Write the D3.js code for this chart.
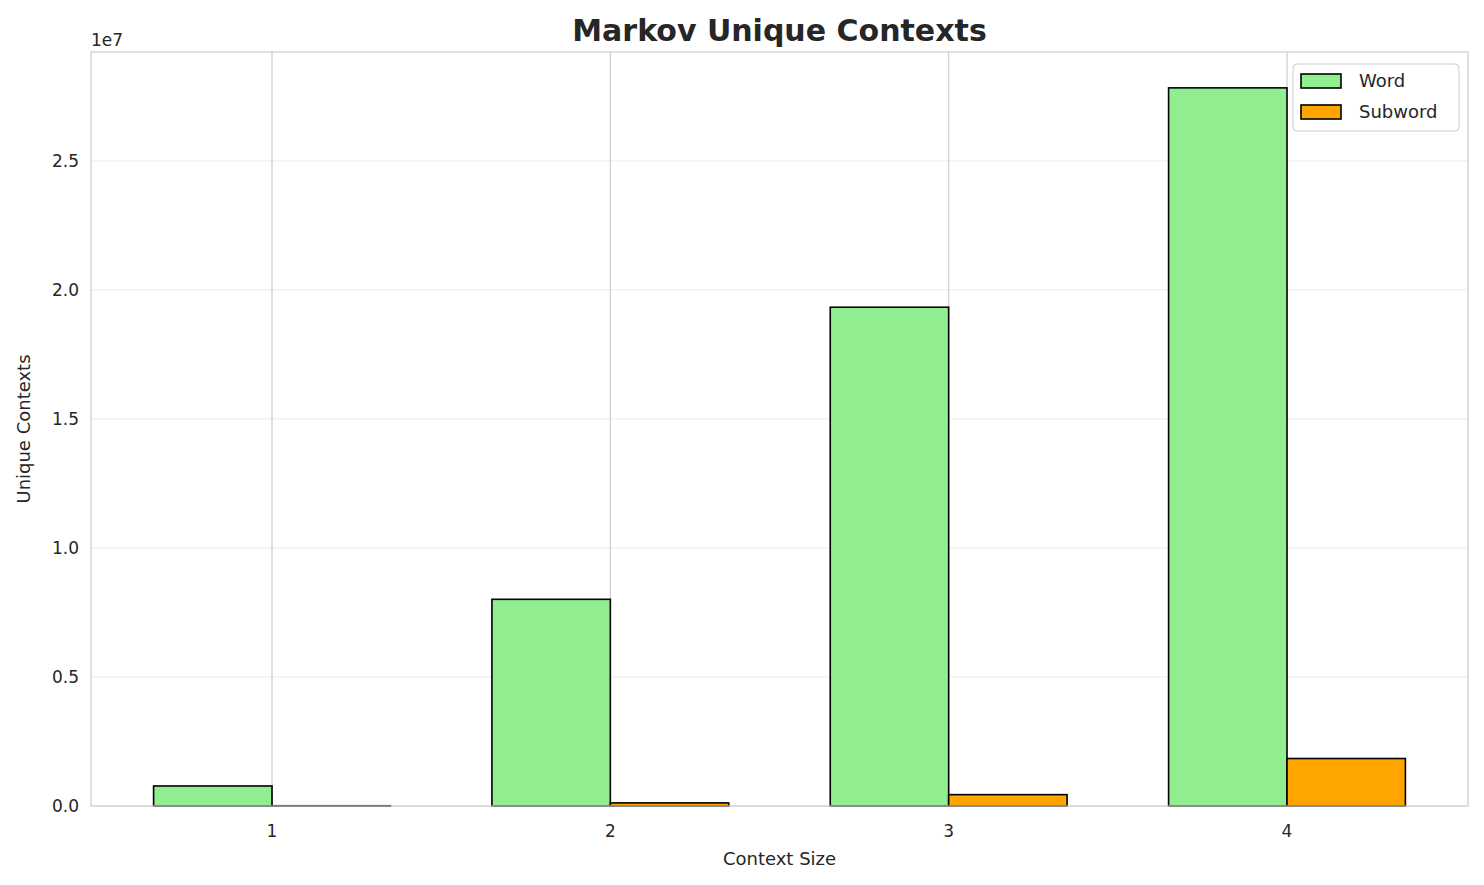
<!DOCTYPE html>
<html><head><meta charset="utf-8">
<script src="https://cdn.jsdelivr.net/npm/d3@7"></script>
<style>body{margin:0;background:#fff;font-family:"DejaVu Sans",sans-serif;}</style>
</head><body><svg id="c" width="1484" height="885"></svg>
<script>
const categories = [1, 2, 3, 4];
const wordValues = [776000, 8010000, 19330000, 27830000];
const subwordValues = [10000, 120000, 440000, 1840000];
const yTicks = [0, 5e6, 1e7, 1.5e7, 2e7, 2.5e7];
const seriesNames = ["Word", "Subword"];
const seriesColors = ["#90ee90", "#ffa500"];

const svg = d3.select("#c");
const L = 91, R = 1468, T = 52, B = 806;
const x = d3.scaleLinear().domain([0.465, 4.535]).range([L, R]);
const y = d3.scaleLinear().domain([0, 2.922e7]).range([B, T]);
const bw = 0.35;

// grids
svg.append("g").selectAll("line").data(yTicks).join("line")
  .attr("x1", L).attr("x2", R).attr("y1", d => y(d)).attr("y2", d => y(d))
  .attr("stroke", "#ebebeb").attr("stroke-width", 1);
svg.append("g").selectAll("line").data(categories).join("line")
  .attr("x1", d => x(d)).attr("x2", d => x(d)).attr("y1", T).attr("y2", B)
  .attr("stroke", "#cccccc").attr("stroke-width", 1.2);

// bars
[wordValues, subwordValues].forEach((vals, s) => {
  svg.append("g").selectAll("rect").data(vals).join("rect")
    .attr("x", (d, i) => x(categories[i] - bw + s * bw))
    .attr("width", x(bw) - x(0))
    .attr("y", d => y(d)).attr("height", d => B - y(d))
    .attr("fill", seriesColors[s]).attr("stroke", "#000").attr("stroke-width", 1.6);
});

// frame
svg.append("rect").attr("x", L).attr("y", T).attr("width", R - L).attr("height", B - T)
  .attr("fill", "none").attr("stroke", "#cccccc").attr("stroke-width", 1.2);

// axes labels
svg.append("g").selectAll("text").data(categories).join("text")
  .attr("x", d => x(d)).attr("y", B + 31).attr("text-anchor", "middle")
  .attr("font-size", 17).attr("fill", "#262626").text(d => d);
svg.append("g").selectAll("text").data(yTicks).join("text")
  .attr("x", L - 12).attr("y", d => y(d) + 6).attr("text-anchor", "end")
  .attr("font-size", 17).attr("fill", "#262626").text(d => (d / 1e7).toFixed(1));
svg.append("text").attr("x", L).attr("y", T - 6).attr("font-size", 17).attr("fill", "#262626").text("1e7");
svg.append("text").attr("x", (L + R) / 2).attr("y", 865).attr("text-anchor", "middle")
  .attr("font-size", 18).attr("fill", "#262626").text("Context Size");
svg.append("text").attr("transform", `translate(30,${(T + B) / 2}) rotate(-90)`).attr("text-anchor", "middle")
  .attr("font-size", 18).attr("fill", "#262626").text("Unique Contexts");
svg.append("text").attr("x", (L + R) / 2).attr("y", 41).attr("text-anchor", "middle")
  .attr("font-size", 30).attr("font-weight", "bold").attr("fill", "#262626").text("Markov Unique Contexts");

// legend
const lg = svg.append("g").attr("transform", "translate(1293,64)");
lg.append("rect").attr("width", 166).attr("height", 67).attr("rx", 4)
  .attr("fill", "#fff").attr("fill-opacity", 0.8).attr("stroke", "#cccccc");
seriesNames.forEach((n, i) => {
  lg.append("rect").attr("x", 8).attr("y", 10 + i * 31).attr("width", 40).attr("height", 14)
    .attr("fill", seriesColors[i]).attr("stroke", "#000").attr("stroke-width", 1.6);
  lg.append("text").attr("x", 66).attr("y", 23 + i * 31).attr("font-size", 18)
    .attr("fill", "#262626").text(n);
});
</script></body></html>
